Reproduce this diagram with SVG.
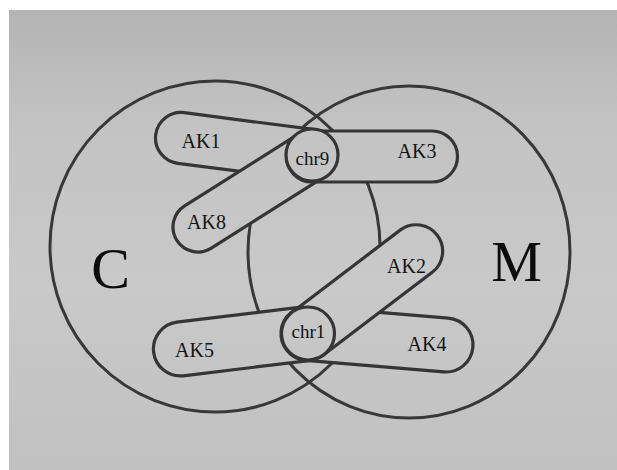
<svg xmlns="http://www.w3.org/2000/svg" width="617" height="470" viewBox="0 0 617 470">
  <defs>
    <!-- paper tone, shared by the sheet and by the opaque shapes on it -->
    <linearGradient id="paper" gradientUnits="userSpaceOnUse" x1="0" y1="10" x2="0" y2="470">
      <stop offset="0" stop-color="#b4b4b4"/>
      <stop offset="0.25" stop-color="#c3c3c3"/>
      <stop offset="0.6" stop-color="#c9c9c9"/>
      <stop offset="1" stop-color="#c1c1c1"/>
    </linearGradient>
    <style>
      .ring { fill: none; stroke: #383838; stroke-width: 3; }
      .cap  { fill: url(#paper); stroke: #353535; stroke-width: 3.2; stroke-linejoin: round; }
      .lbl  { font-family: "Liberation Serif", "Times New Roman", serif; font-size: 20px; fill: #141414; text-anchor: middle; }
      .chr  { font-size: 19px; }
      .big  { font-family: "Liberation Serif", "Times New Roman", serif; font-size: 58px; fill: #0c0c0c; text-anchor: middle; }
    </style>
  </defs>

  <!-- sheet -->
  <rect x="0" y="0" width="617" height="470" fill="#ffffff"/>
  <rect x="9" y="10" width="608" height="460" fill="url(#paper)"/>

  <!-- the two overlapping sets -->
  <g id="sets">
    <g id="set-C">
      <ellipse class="ring" cx="215" cy="246.5" rx="165" ry="165.5"/>
      <text class="big" x="110.5" y="288">C</text>
    </g>
    <g id="set-M">
      <ellipse class="ring" cx="409" cy="252" rx="161" ry="166"/>
      <text class="big" x="516.5" y="281" style="font-size:57px">M</text>
    </g>
  </g>

  <!-- links radiating from chr9 (capsules in absolute coordinates so the paper fill lines up) -->
  <g id="AK1">
    <path class="cap" d="M177.72,163.29 L308.72,180.29 A25.5,25.5 0 0 0 315.28,129.71 L184.28,112.71 A25.5,25.5 0 0 0 177.72,163.29 Z"/>
    <text class="lbl" x="201" y="148">AK1</text>
  </g>
  <g id="AK8">
    <path class="cap" d="M211.35,248.14 L325.35,176.14 A25,25 0 0 0 298.65,133.86 L184.65,205.86 A25,25 0 0 0 211.35,248.14 Z"/>
    <text class="lbl" x="206.5" y="229">AK8</text>
  </g>
  <g id="AK3">
    <rect class="cap" x="286.5" y="131" width="171" height="51" rx="25.5"/>
    <text class="lbl" x="417" y="158">AK3</text>
  </g>
  <g id="chr9">
    <circle class="cap" cx="312" cy="155" r="26"/>
    <text class="lbl chr" x="312.5" y="165">chr9</text>
  </g>

  <!-- links radiating from chr1 -->
  <g id="AK5">
    <path class="cap" d="M183.25,375.80 L311.25,360.30 A27,27 0 0 0 304.75,306.70 L176.75,322.20 A27,27 0 0 0 183.25,375.80 Z"/>
    <text class="lbl" x="194.5" y="357">AK5</text>
  </g>
  <g id="AK4">
    <path class="cap" d="M305.76,360.41 L443.76,371.91 A27,27 0 0 0 448.24,318.09 L310.24,306.59 A27,27 0 0 0 305.76,360.41 Z"/>
    <text class="lbl" x="427" y="351">AK4</text>
  </g>
  <g id="AK2">
    <path class="cap" d="M324.04,354.59 L432.54,272.09 A26.5,26.5 0 0 0 400.46,229.91 L291.96,312.41 A26.5,26.5 0 0 0 324.04,354.59 Z"/>
    <text class="lbl" x="406.5" y="273">AK2</text>
  </g>
  <g id="chr1">
    <circle class="cap" cx="308" cy="333.5" r="26.5"/>
    <text class="lbl chr" x="308.5" y="338">chr1</text>
  </g>

  <!-- no separate connectors: every link is drawn as a node above -->
  <g id="connectors"/>
</svg>
